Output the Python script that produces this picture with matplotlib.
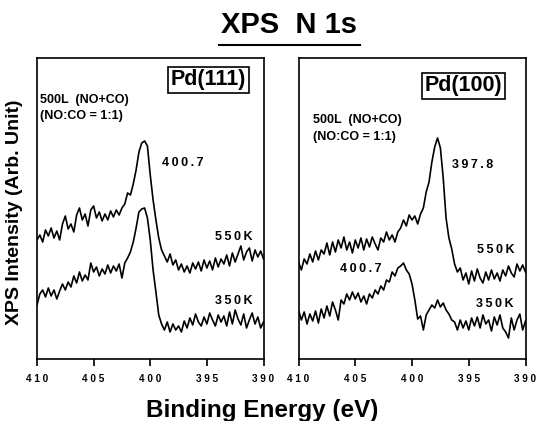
import numpy as np
import matplotlib
matplotlib.use("Agg")
from matplotlib import pyplot as plt
from matplotlib.lines import Line2D
from matplotlib.ticker import FixedLocator, FuncFormatter

plt.rcParams['font.family'] = ['Liberation Sans', 'DejaVu Sans']
plt.rcParams['font.weight'] = 'bold'

# binding energy grid (eV), 0.25 eV steps from 410 down to 390
binding_energy = np.linspace(410, 390, 81)

# Pd(111) spectra, intensity (arb. units)
pd111_550k = [
    160, 165, 158, 170, 164, 172, 162, 169, 160, 176,
    184, 171, 176, 168, 185, 192, 180, 186, 174, 190,
    194, 182, 188, 179, 186, 180, 189, 183, 190, 185,
    192, 196, 207, 205, 216, 230, 248, 257, 259, 254,
    225, 200, 180, 162, 150, 144, 138, 146, 135, 140,
    130, 136, 128, 134, 127, 137, 131, 138, 129, 140,
    132, 139, 130, 142, 133, 141, 136, 145, 134, 147,
    138, 146, 154, 140, 148, 152, 139, 150, 143, 149,
    141,
]
pd111_350k = [
    95, 106, 110, 103, 112, 104, 110, 101, 109, 116,
    110, 118, 113, 124, 117, 128, 119, 125, 120, 137,
    128, 133, 124, 131, 126, 135, 127, 134, 129, 136,
    122, 137, 142, 148, 158, 172, 188, 191, 192, 182,
    160, 130, 108, 85, 76, 70, 78, 68, 76, 70,
    74, 68, 79, 72, 82, 75, 86, 78, 74, 83,
    76, 87, 80, 74, 85, 78, 84, 74, 88, 76,
    90, 81, 75, 86, 72, 80, 87, 76, 83, 72,
    78,
]

# Pd(100) spectra
pd100_550k = [
    138, 130, 141, 136, 146, 138, 149, 140, 150, 146,
    157, 145, 158, 148, 160, 152, 163, 150, 158, 147,
    160, 152, 162, 150, 161, 153, 163, 156, 150, 162,
    158, 168, 160, 165, 158, 168, 172, 180, 174, 185,
    180, 184, 176, 186, 192, 208, 218, 238, 253, 262,
    252, 222, 182, 162, 151, 136, 128, 132, 120, 127,
    116, 129, 119, 131, 122, 117, 128, 120, 130, 121,
    127, 119, 130, 124, 134, 127, 123, 136, 129, 135,
    128,
]
pd100_350k = [
    90, 80, 88, 76, 86, 79, 89, 77, 91, 82,
    94, 84, 98, 90, 80, 100, 96, 106, 100, 108,
    101, 107, 98, 104, 96, 106, 102, 110, 106, 114,
    110, 120, 118, 128, 124, 132, 134, 137, 130, 126,
    116, 100, 81, 84, 70, 85, 90, 95, 92, 100,
    93, 97, 90, 86, 80, 78, 70, 80, 72, 79,
    70, 82, 74, 83, 72, 85, 76, 80, 69, 83,
    75, 85, 72, 68, 62, 82, 70, 80, 86, 70,
    79,
]

ticks = [410, 405, 400, 395, 390]


def spaced(s, gap=' '):
    return gap.join(s)


fig = plt.figure(figsize=(5.37, 4.21), dpi=100)
ax1 = fig.add_axes([0.0689, 0.1473, 0.4218, 0.715])
ax2 = fig.add_axes([0.5559, 0.1473, 0.4227, 0.715])

panels = [
    (ax1, pd111_550k, pd111_350k, 'Pd(111)', (0.757, 0.927)),
    (ax2, pd100_550k, pd100_350k, 'Pd(100)', (0.728, 0.907)),
]

for ax, upper, lower, name, boxpos in panels:
    ax.plot(binding_energy, upper, color='black', lw=1.2)
    ax.plot(binding_energy, lower, color='black', lw=1.2)
    ax.set_xlim(410, 390)
    ax.set_ylim(41, 342)
    ax.set_yticks([])
    ax.xaxis.set_major_locator(FixedLocator(ticks))
    ax.xaxis.set_major_formatter(FuncFormatter(lambda v, p: spaced('%d' % v)))
    ax.tick_params(axis='x', direction='out', length=5, width=1.2, pad=6,
                   labelsize=7.2)
    for sp in ax.spines.values():
        sp.set_linewidth(1.2)
    ax.text(boxpos[0], boxpos[1], name, transform=ax.transAxes,
            ha='center', va='center', fontsize=15.5,
            bbox=dict(boxstyle='square,pad=0.12', fc='white', ec='black', lw=1.2))

thin = '\u2009'

# annotations, Pd(111)
ax1.text(409.7, 300, '500L  (NO+CO)', fontsize=9, va='center')
ax1.text(409.7, 284, '(NO:CO = 1:1)', fontsize=9, va='center')
ax1.text(397.1, 237, spaced('400.7', thin), fontsize=9, ha='center', va='center')
ax1.text(392.6, 163, spaced('550K', thin), fontsize=9, ha='center', va='center')
ax1.text(392.6, 99, spaced('350K', thin), fontsize=9, ha='center', va='center')

# annotations, Pd(100)
ax2.text(408.7, 280, '500L  (NO+CO)', fontsize=9, va='center')
ax2.text(408.7, 263, '(NO:CO = 1:1)', fontsize=9, va='center')
ax2.text(394.7, 235, spaced('397.8', thin), fontsize=9, ha='center', va='center')
ax2.text(392.6, 150, spaced('550K', thin), fontsize=9, ha='center', va='center')
ax2.text(404.5, 131, spaced('400.7', thin), fontsize=9, ha='center', va='center')
ax2.text(392.7, 96, spaced('350K', thin), fontsize=9, ha='center', va='center')

# title with underline
fig.text(289 / 537, 1 - 25 / 421, 'XPS  N 1s', fontsize=21, ha='center', va='center')
fig.add_artist(Line2D([219 / 537, 360 / 537], [1 - 44.5 / 421, 1 - 44.5 / 421],
                      color='black', lw=1.5, transform=fig.transFigure))

fig.text(15 / 537, 1 - 212 / 421, 'XPS Intensity (Arb. Unit)', fontsize=14,
         rotation=90, ha='center', va='center')
fig.text(262 / 537, 1 - 410 / 421, 'Binding Energy (eV)', fontsize=17.5,
         ha='center', va='center')

fig.savefig('out.png', dpi=100)
